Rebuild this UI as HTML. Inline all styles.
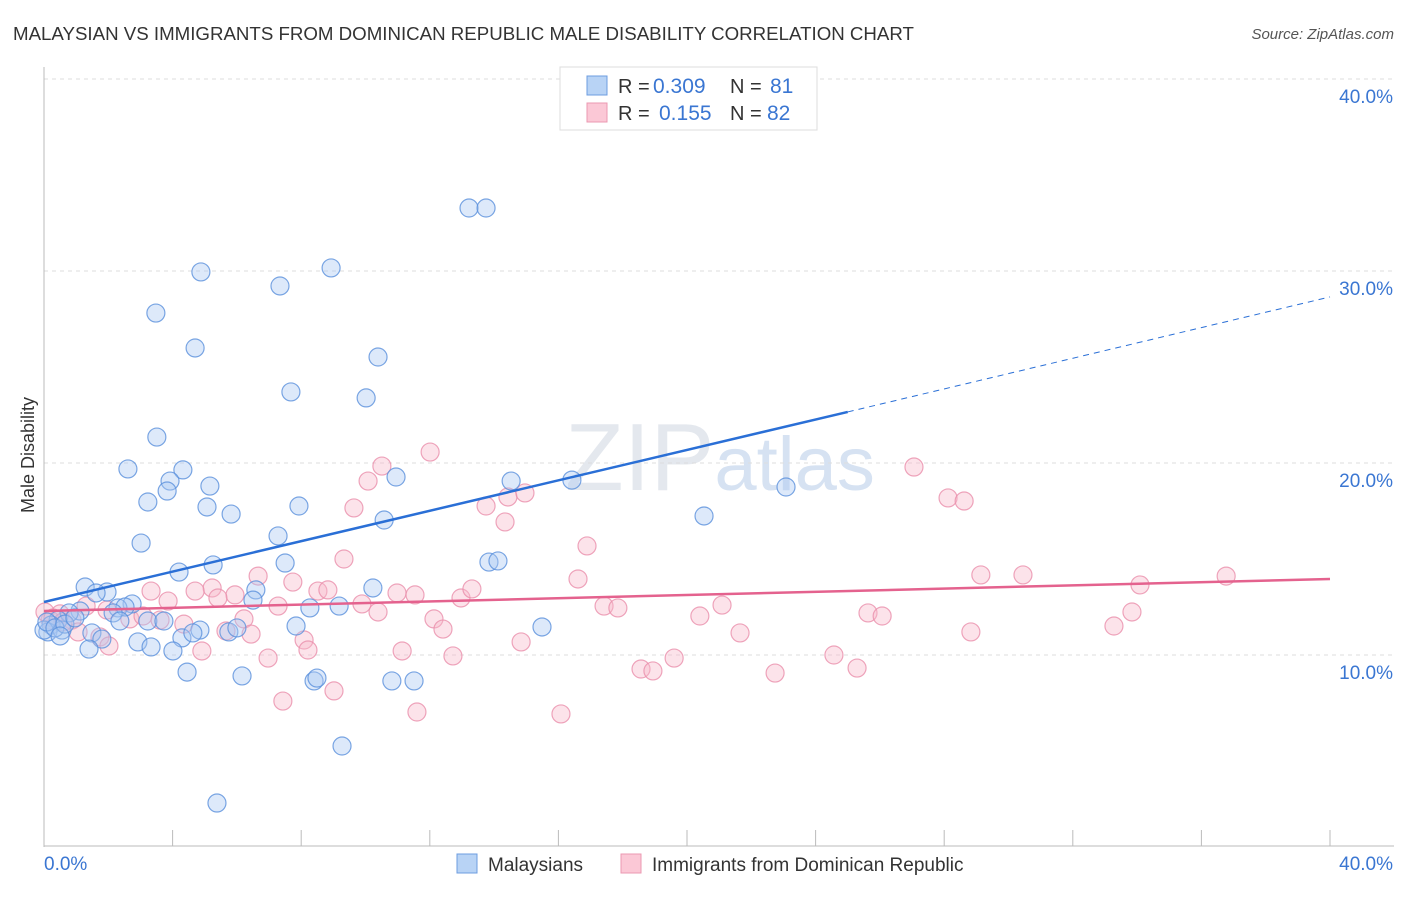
<!DOCTYPE html>
<html><head><meta charset="utf-8"><style>
body{margin:0;background:#fff;font-family:"Liberation Sans",sans-serif;}
svg text{font-family:"Liberation Sans",sans-serif;}
</style></head><body>
<svg id="chart" width="1406" height="892" xmlns="http://www.w3.org/2000/svg">
<text x="13" y="40" font-size="18.7" fill="#333">MALAYSIAN VS IMMIGRANTS FROM DOMINICAN REPUBLIC MALE DISABILITY CORRELATION CHART</text>
<text x="1394" y="39" font-size="15" fill="#555" text-anchor="end" font-style="italic">Source: ZipAtlas.com</text>
<text x="720" y="490" font-size="96" fill="#e4e8ee" text-anchor="middle" font-family="Liberation Serif">ZIP<tspan fill="#d6e2f2" font-family="Liberation Sans" font-size="76">atlas</tspan></text>
<g id="grid"></g>
<g id="axes"></g>
<g id="marks"></g>
<text transform="translate(34,455) rotate(-90)" font-size="18" fill="#333" text-anchor="middle">Male Disability</text>
<g>
<rect x="560" y="67" width="257" height="63" fill="#fff" stroke="#ddd"/>
<rect x="587" y="76" width="20" height="19" fill="#b8d3f5" stroke="#6d9de0"/>
<rect x="587" y="103" width="20" height="19" fill="#fbc8d6" stroke="#eb98b1"/>
<text x="618" y="93" font-size="20" fill="#333">R =</text>
<text x="653" y="93" font-size="21" fill="#3a76d2">0.309</text>
<text x="730" y="93" font-size="20" fill="#333">N =</text>
<text x="770" y="93" font-size="21" fill="#3a76d2">81</text>
<text x="618" y="120" font-size="20" fill="#333">R =</text>
<text x="659" y="120" font-size="21" fill="#3a76d2">0.155</text>
<text x="730" y="120" font-size="20" fill="#333">N =</text>
<text x="767" y="120" font-size="21" fill="#3a76d2">82</text>
</g>
<g>
<rect x="457" y="854" width="20" height="19" fill="#b8d3f5" stroke="#6d9de0"/>
<text x="488" y="871" font-size="19" fill="#333">Malaysians</text>
<rect x="621" y="854" width="20" height="19" fill="#fbc8d6" stroke="#eb98b1"/>
<text x="652" y="871" font-size="19" fill="#333">Immigrants from Dominican Republic</text>
</g>
</svg>
<script>
const blueX=[13.22,13.75,8.93,4.88,7.34,3.48,4.70,10.39,7.68,10.02,3.51,2.61,4.32,3.92,10.95,14.53,16.42,23.08,3.83,5.16,3.23,7.93,5.07,5.82,10.58,20.53,3.02,7.28,5.26,7.50,4.20,13.84,14.12,1.28,1.96,10.23,6.59,1.62,6.50,2.74,1.12,2.30,2.52,2.15,8.27,9.18,0.78,0.44,0.22,0.12,0.56,1.49,2.36,3.23,3.73,4.85,5.75,6.00,7.84,15.49,1.80,2.92,4.29,3.33,1.40,4.01,4.63,4.45,6.16,8.40,8.49,10.82,11.51,9.27,5.38,0.0,0.09,0.34,0.65,0.96,0.50];
const blueY=[33.28,33.28,30.16,29.95,29.22,27.81,25.99,25.52,23.70,23.39,21.35,19.69,19.64,19.06,19.27,19.06,19.11,18.75,18.54,18.80,17.97,17.76,17.71,17.34,17.03,17.24,15.83,16.20,14.69,14.79,14.32,14.84,14.90,13.54,13.28,13.49,13.39,13.23,12.86,12.66,12.29,12.45,12.50,12.19,12.45,12.55,12.19,11.82,11.56,11.20,11.30,11.15,11.77,11.77,11.77,11.30,11.20,11.41,11.51,11.46,10.83,10.68,10.89,10.42,10.31,10.21,11.15,9.11,8.91,8.65,8.80,8.65,8.65,5.26,2.29,11.30,11.72,11.41,11.61,11.93,10.99];
const pinkX=[12.01,10.51,27.06,10.08,28.12,28.62,14.43,14.96,13.75,9.64,14.34,16.89,9.33,6.66,16.61,29.14,30.45,36.77,34.09,5.23,7.74,8.52,3.33,4.70,8.83,10.98,11.54,12.97,13.31,5.94,5.41,3.86,9.89,17.42,17.85,21.09,33.84,25.63,26.07,20.40,10.39,7.28,6.22,12.13,1.31,1.96,2.67,0.50,0.19,0.87,1.06,1.74,2.02,3.08,3.61,4.35,5.66,6.44,8.09,12.41,14.84,21.65,28.83,33.28,11.14,12.72,8.21,4.91,6.97,19.60,24.57,18.57,18.94,22.74,25.29,7.43,9.02,11.60,16.08,0.03,0.28,0.59];
const pinkY=[20.57,19.84,19.79,19.06,18.18,18.02,18.23,18.44,17.76,17.66,16.93,15.68,15.00,14.11,13.96,14.17,14.17,14.11,13.65,13.49,13.80,13.33,13.33,13.33,13.39,13.23,13.13,12.97,13.44,13.13,12.97,12.81,12.66,12.55,12.45,12.60,12.24,12.19,12.03,12.03,12.24,12.55,11.88,11.88,12.55,12.34,11.88,12.14,11.82,11.82,11.20,10.94,10.47,12.03,11.82,11.61,11.25,11.09,10.78,11.35,10.68,11.15,11.20,11.51,10.21,9.95,10.26,10.21,9.84,9.84,10.00,9.27,9.17,9.06,9.32,7.60,8.13,7.03,6.93,12.24,11.93,11.72];
const blueTrend=[12.76,22.66,28.65]; const blueTrendX=[0,25,40];
const pinkTrend=[12.29,13.96]; const pinkTrendX=[0,40];
const yTicks=[10,20,30,40];
const xTickLabels=["0.0%","40.0%"];
const NS="http://www.w3.org/2000/svg";
const sx=v=>44+v*32.15, sy=v=>847-v*19.2;
function mk(t,a,p){const e=document.createElementNS(NS,t);for(const k in a)e.setAttribute(k,a[k]);p.appendChild(e);return e;}
const grid=document.getElementById('grid'),axes=document.getElementById('axes'),marks=document.getElementById('marks');
yTicks.forEach(t=>{
 const l=mk('line',{x1:44,x2:1394,y1:sy(t),y2:sy(t),stroke:'#ddd','stroke-dasharray':'4,4'},grid);
 
 
 const tx=mk('text',{x:1393,y:sy(t)+24,'font-size':19,fill:'#3a76d2','text-anchor':'end'},axes);tx.textContent=t.toFixed(1)+'%';
 
 
});
const ya=mk('line',{x1:44,x2:44,y1:67,y2:847,stroke:'#bbb'},axes);


const xa=mk('line',{x1:44,x2:1394,y1:846,y2:846,stroke:'#bbb'},axes);


for(let i=0;i<=10;i++){const t=mk('line',{x1:sx(i*4),x2:sx(i*4),y1:830,y2:846,stroke:'#bbb'},axes);
 
 }
const xl0=mk('text',{x:44,y:870,'font-size':19,fill:'#3a76d2'},axes);xl0.textContent=xTickLabels[0];


const xl1=mk('text',{x:1393,y:870,'font-size':19,fill:'#3a76d2','text-anchor':'end'},axes);xl1.textContent=xTickLabels[1];


function pts(X,Y,fill,stroke,name){X.forEach((x,i)=>{const c=mk('circle',{cx:sx(x),cy:sy(Y[i]),r:9,fill:fill,'fill-opacity':0.4,stroke:stroke,'stroke-opacity':0.8,'stroke-width':1.2},marks);
 
 });}
pts(pinkX,pinkY,'#f7b9cb','#ea8fab','pink-point');
pts(blueX,blueY,'#a9c9f2','#5a90dc','blue-point');
const bl=mk('line',{x1:sx(blueTrendX[0]),y1:sy(blueTrend[0]),x2:sx(blueTrendX[1]),y2:sy(blueTrend[1]),stroke:'#2a6fd6','stroke-width':2.5},marks);


const bd=mk('line',{x1:sx(blueTrendX[1]),y1:sy(blueTrend[1]),x2:sx(blueTrendX[2]),y2:sy(blueTrend[2]),stroke:'#2a6fd6','stroke-width':1,'stroke-dasharray':'6,5'},marks);


const pl=mk('line',{x1:sx(pinkTrendX[0]),y1:sy(pinkTrend[0]),x2:sx(pinkTrendX[1]),y2:sy(pinkTrend[1]),stroke:'#e4628e','stroke-width':2.5},marks);


</script>
</body></html>
